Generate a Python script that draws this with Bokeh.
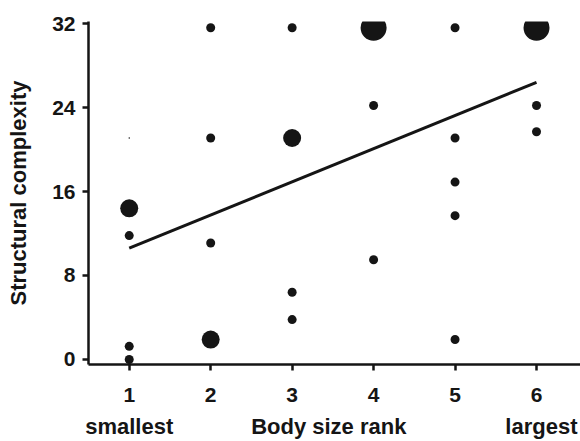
from bokeh.plotting import figure
from bokeh.models import Range1d, FixedTicker, LinearAxis
from bokeh.embed import file_html
from bokeh.resources import INLINE

# Data
rank = [1, 1, 1, 1, 1,
        2, 2, 2, 2,
        3, 3, 3, 3,
        4, 4, 4,
        5, 5, 5, 5, 5,
        6, 6, 6]
complexity = [14.4, 11.8, 1.25, 0.0, 21.1,
              31.6, 21.1, 11.1, 1.9,
              31.6, 21.1, 6.4, 3.8,
              31.6, 24.2, 9.5,
              31.6, 21.1, 16.9, 13.7, 1.9,
              31.6, 24.2, 21.7]
weight = [2, 1, 1, 1, 0,
          1, 1, 1, 2,
          1, 2, 1, 1,
          3, 1, 1,
          1, 1, 1, 1, 1,
          3, 1, 1]
fit_x = [1, 6]
fit_y = [10.6, 26.4]
y_ticks = [0, 8, 16, 24, 32]
x_ticks = [1, 2, 3, 4, 5, 6]
bottom_texts = {1: "smallest", 3.45: "Body size rank", 6.06: "largest"}

size_map = {0: 1.5, 1: 9, 2: 18, 3: 26}
sizes = [size_map[w] for w in weight]

FONT = "Liberation Sans"
INK = "#151515"

p = figure(width=580, height=441, output_backend="svg", toolbar_location=None,
           x_range=Range1d(0.5, 6.54), y_range=Range1d(-0.48, 32.2),
           min_border_left=88, min_border_right=0, min_border_top=21, min_border_bottom=0)
p.outline_line_color = None
p.xgrid.visible = False
p.ygrid.visible = False
p.background_fill_color = "white"

p.line(fit_x, fit_y, line_color=INK, line_width=3)
p.scatter(rank, complexity, size=sizes, fill_color=INK, line_color=None)

for ax in (p.xaxis[0], p.yaxis[0]):
    ax.axis_line_width = 2.5
    ax.axis_line_color = INK
    ax.major_tick_line_width = 2.5
    ax.major_tick_line_color = INK
    ax.major_tick_out = 6
    ax.major_tick_in = 0
    ax.minor_tick_line_color = None
    ax.major_label_text_font = FONT
    ax.major_label_text_font_style = "bold"
    ax.major_label_text_font_size = "21px"
    ax.major_label_text_color = INK
    ax.major_label_text_line_height = 1.0

p.xaxis[0].ticker = FixedTicker(ticks=x_ticks)
p.xaxis[0].major_label_standoff = 17
p.yaxis[0].ticker = FixedTicker(ticks=y_ticks)
p.yaxis[0].major_label_standoff = 7
p.yaxis[0].axis_label = "Structural complexity"
p.yaxis[0].axis_label_text_font = FONT
p.yaxis[0].axis_label_text_font_style = "bold"
p.yaxis[0].axis_label_text_font_size = "22px"
p.yaxis[0].axis_label_text_color = INK
p.yaxis[0].axis_label_standoff = 18

ax2 = LinearAxis(ticker=FixedTicker(ticks=list(bottom_texts.keys())),
                 major_label_overrides=bottom_texts)
ax2.axis_line_color = None
ax2.major_tick_line_color = None
ax2.minor_tick_line_color = None
ax2.major_tick_out = 0
ax2.major_label_standoff = 9
ax2.major_label_text_font = FONT
ax2.major_label_text_font_style = "bold"
ax2.major_label_text_font_size = "22px"
ax2.major_label_text_color = INK
ax2.major_label_text_line_height = 1.0
p.add_layout(ax2, "below")

open("out.html", "w").write(file_html(p, INLINE))
